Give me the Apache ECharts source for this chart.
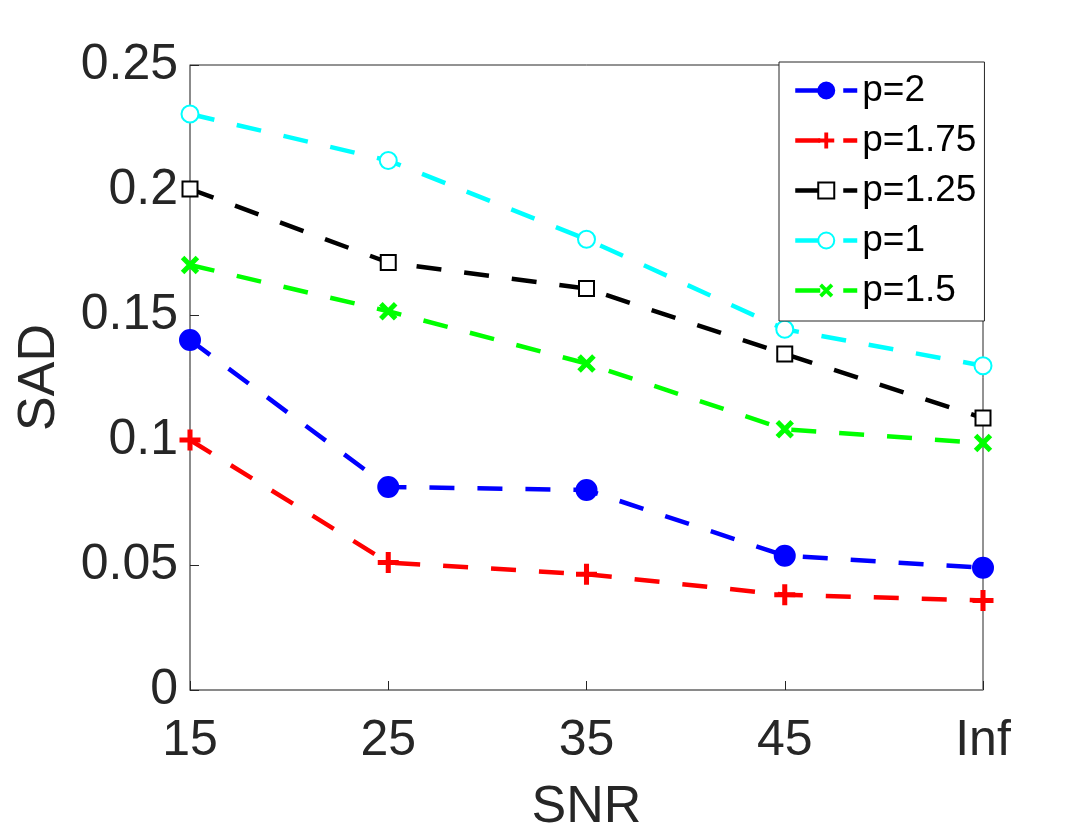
<!DOCTYPE html>
<html>
<head>
<meta charset="utf-8">
<script src="https://cdn.jsdelivr.net/npm/echarts@6/dist/echarts.min.js"></script>
<style>
  html, body { margin: 0; padding: 0; background: #fff; }
  #chart { width: 1088px; height: 840px; }
</style>
</head>
<body>
<div id="chart"></div>
<script>
// SNR categories
const snrLabels = ['15', '25', '35', '45', 'Inf']

// SAD values per p
const sadP2 = [0.140, 0.0812, 0.0800, 0.0537, 0.0489]
const sadP175 = [0.100, 0.0510, 0.0463, 0.0381, 0.0358]
const sadP125 = [0.2004, 0.1710, 0.1606, 0.1344, 0.1088]
const sadP1 = [0.2304, 0.2118, 0.1803, 0.1443, 0.1297]
const sadP15 = [0.1700, 0.1515, 0.1306, 0.1043, 0.0988]

const plusPath = 'path://M-1,-0.24 H1 V0.24 H-1 Z M-0.24,-1 H0.24 V1 H-0.24 Z'
const textColor = '#262626'
const font = 'Liberation Sans, Arial, sans-serif'

function makeSeries(name, data, color, symbol, size, opts) {
  return Object.assign({
    name: name,
    type: 'line',
    data: data,
    showAllSymbol: true,
    symbol: symbol,
    symbolSize: size,
    lineStyle: { color: color, width: 4.5, type: [25, 23] },
    itemStyle: { color: color, borderColor: color, borderWidth: 4 },
    emphasis: { disabled: true },
    animation: false
  }, opts || {})
}

const chart = echarts.init(document.getElementById('chart'))

chart.setOption({
  backgroundColor: '#fff',
  textStyle: { fontFamily: font },
  grid: {
    left: 190,
    right: 105,
    top: 65,
    bottom: 150,
    show: true,
    borderColor: textColor,
    borderWidth: 1
  },
  legend: {
    orient: 'vertical',
    left: 779,
    top: 62,
    padding: [10, 8, 12, 14],
    itemWidth: 62,
    itemHeight: 20,
    itemGap: 13,
    backgroundColor: '#fff',
    borderColor: textColor,
    borderWidth: 1,
    lineStyle: { width: 4.5 },
    textStyle: { fontSize: 37, color: '#000', fontFamily: font },
    data: ['p=2', 'p=1.75', 'p=1.25', 'p=1', 'p=1.5']
  },
  xAxis: {
    type: 'category',
    data: snrLabels,
    boundaryGap: false,
    name: 'SNR',
    nameLocation: 'middle',
    nameGap: 92,
    nameTextStyle: { fontSize: 52, color: textColor, fontFamily: font },
    axisLine: { lineStyle: { color: '#888', width: 1.5 } },
    axisTick: { inside: true, length: 9, alignWithLabel: true, lineStyle: { color: textColor } },
    axisLabel: { fontSize: 50, color: textColor, margin: 26, fontFamily: font },
    splitLine: { show: false }
  },
  yAxis: {
    type: 'value',
    min: 0,
    max: 0.25,
    interval: 0.05,
    name: 'SAD',
    nameLocation: 'middle',
    nameGap: 124,
    nameTextStyle: { fontSize: 52, color: textColor, fontFamily: font },
    axisLine: { show: true, lineStyle: { color: '#888', width: 1.5 } },
    axisTick: { show: true, inside: true, length: 9, lineStyle: { color: textColor } },
    axisLabel: { fontSize: 50, color: textColor, margin: 12, fontFamily: font },
    splitLine: { show: false }
  },
  series: [
    makeSeries('p=2', sadP2, '#0000ff', 'circle', 18),
    makeSeries('p=1.75', sadP175, '#ff0000', plusPath, 21, { itemStyle: { color: '#ff0000', borderWidth: 0 } }),
    makeSeries('p=1.25', sadP125, '#000000', 'emptyRect', 15),
    makeSeries('p=1', sadP1, '#00ffff', 'emptyCircle', 17),
    makeSeries('p=1.5', sadP15, '#00ff00', plusPath, 21, { symbolRotate: 45, itemStyle: { color: '#00ff00', borderWidth: 0 } })
  ]
})
</script>
</body>
</html>
